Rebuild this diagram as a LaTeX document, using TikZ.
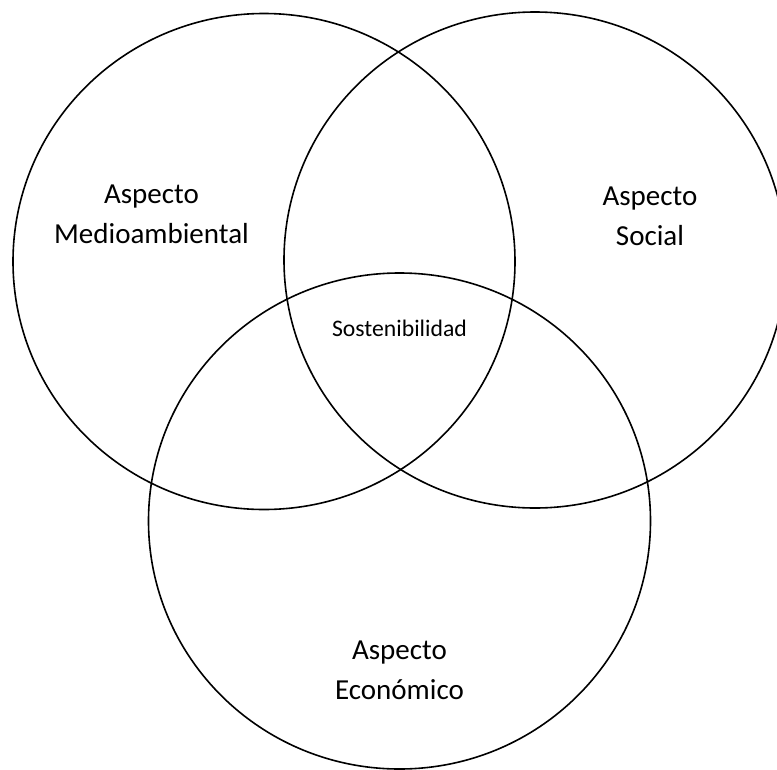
\documentclass[tikz,border=0pt]{standalone}
\usepackage{fontspec}
\setmainfont{Carlito}
\begin{document}
\begin{tikzpicture}[x=1pt,y=-1pt,
  ring/.style={draw=black,line width=1.6pt},
  biglabel/.style={align=center,anchor=base,inner sep=0pt,
    font=\fontsize{29}{40}\selectfont},
  smalllabel/.style={anchor=base,inner sep=0pt,
    font=\fontsize{23.7}{28}\selectfont}]
  \useasboundingbox (0,0) rectangle (777,769);
  \clip (0,0) rectangle (777,769);
  % the three overlapping aspects
  \draw[ring] (264,261.5) ellipse [x radius=251,y radius=248];
  \draw[ring] (535,260) ellipse [x radius=251,y radius=248];
  \draw[ring] (399.5,521) ellipse [x radius=251,y radius=248];
  % labels (base anchor sits on the last line's baseline)
  \node[biglabel] (amb) at (151.5,243) {Aspecto\\Medioambiental};
  \node[biglabel] (soc) at (650,245) {Aspecto\\Social};
  \node[biglabel] (eco) at (399.5,699) {Aspecto\\Económico};
  \node[smalllabel] (sos) at (399.5,336) {Sostenibilidad};
\end{tikzpicture}
\end{document}
